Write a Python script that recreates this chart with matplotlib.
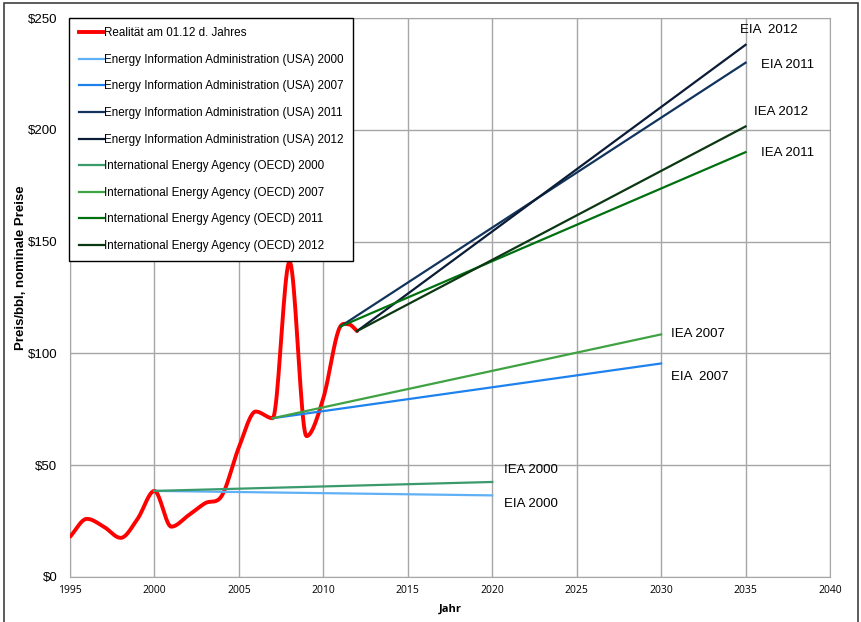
import numpy as np
import matplotlib
matplotlib.use('Agg')
from matplotlib import pyplot as plt
from matplotlib.lines import Line2D

# Realität (Ölpreis am 01.12. des Jahres)
jahre = [1995, 1996, 1997, 1998, 1999, 2000, 2001, 2002, 2003, 2004,
         2005, 2006, 2007, 2008, 2009, 2010, 2011, 2011.5, 2012]
preise = [18, 26, 22.5, 17.5, 26, 38.5, 22.5, 27.5, 33, 36.5,
          58, 74, 71, 141, 63, 80, 112, 113, 110]

# Prognosen: Name, Jahre, Preise
prognosen = [
    ("Energy Information Administration (USA) 2000", [2000, 2020], [38.5, 36.5]),
    ("Energy Information Administration (USA) 2007", [2007, 2030], [71, 95.5]),
    ("Energy Information Administration (USA) 2011", [2011, 2035], [112, 230]),
    ("Energy Information Administration (USA) 2012", [2012, 2035], [110, 238]),
    ("International Energy Agency (OECD) 2000", [2000, 2020], [38.5, 42.5]),
    ("International Energy Agency (OECD) 2007", [2007, 2030], [71, 108.5]),
    ("International Energy Agency (OECD) 2011", [2011, 2035], [112, 190]),
    ("International Energy Agency (OECD) 2012", [2012, 2035], [110, 201.5]),
]
farben = ['#5fb0f5', '#1e82ee', '#12345c', '#0b1c36',
          '#3a9a6c', '#3fa243', '#007010', '#0b3812']

beschriftungen = [
    ("EIA  2012", 2034.7, 244.5), ("EIA 2011", 2035.9, 229),
    ("IEA 2012", 2035.5, 208), ("IEA 2011", 2035.9, 189.5),
    ("IEA 2007", 2030.6, 108.7), ("EIA  2007", 2030.6, 89.4),
    ("IEA 2000", 2020.7, 47.9), ("EIA 2000", 2020.7, 32.6),
]


def glaetten(x, y, n=20):
    """geglättete Linie durch die Punkte (Hermite, flach an Extremstellen)"""
    x = np.asarray(x, float)
    y = np.asarray(y, float)
    m = np.gradient(y, x)
    d = np.diff(y)
    for i in range(1, len(y) - 1):
        if d[i - 1] * d[i] <= 0:
            m[i] = 0
    xs, ys = [], []
    t = np.linspace(0, 1, n, endpoint=False)
    h00 = 2 * t ** 3 - 3 * t ** 2 + 1
    h10 = t ** 3 - 2 * t ** 2 + t
    h01 = -2 * t ** 3 + 3 * t ** 2
    h11 = t ** 3 - t ** 2
    for i in range(len(x) - 1):
        h = x[i + 1] - x[i]
        xs.extend(x[i] + t * h)
        ys.extend(h00 * y[i] + h10 * h * m[i] + h01 * y[i + 1] + h11 * h * m[i + 1])
    xs.append(x[-1])
    ys.append(y[-1])
    return xs, ys


plt.rcParams['font.family'] = ['Liberation Sans', 'DejaVu Sans']

fig = plt.figure(dpi=100, figsize=(8.61, 6.22))
ax = fig.add_axes([70 / 861, 1 - 577 / 622, 760 / 861, 559 / 622])

# Rahmen um die ganze Grafik
fig.add_artist(plt.Rectangle((4 / 861, -0.01), 854 / 861, 1 - 3 / 622 + 0.01,
                             transform=fig.transFigure, fill=False,
                             edgecolor='#404040', linewidth=1.2))

handles = []
gx, gy = glaetten(jahre, preise)
ax.plot(gx, gy, color='red', linewidth=2.8, solid_capstyle='round', zorder=3)
handles.append(Line2D([], [], color='red', linewidth=2.8))

for (name, xs, ys), c in zip(prognosen, farben):
    ax.plot(xs, ys, color=c, linewidth=1.6, zorder=4)
    handles.append(Line2D([], [], color=c, linewidth=1.6))

for text, x, y in beschriftungen:
    ax.text(x, y, text, fontsize=9.5, ha='left', va='center')

ax.set_xlim(1995, 2040)
ax.set_ylim(0, 250)
ax.set_xticks(range(1995, 2041, 5))
ax.set_yticks(range(0, 251, 50))
ax.set_yticklabels(['$%d' % v for v in range(0, 251, 50)], fontsize=9.5)
ax.set_xticklabels([str(v) for v in range(1995, 2041, 5)], fontsize=7.5,
                   family='Open Sans')
ax.tick_params(axis='y', length=0, pad=9)
ax.tick_params(axis='x', length=0, pad=6)
ax.grid(True, color='#a6a6a6', linewidth=1)
ax.set_axisbelow(True)
for s in ax.spines.values():
    s.set_color('#a6a6a6')

ax.set_xlabel('Jahr', fontsize=8, fontweight='bold', family='Open Sans',
              labelpad=5)
fig.text(21 / 861, 1 - 268 / 622, 'Preis/bbl, nominale Preise', rotation=90,
         fontsize=9.5, fontweight='bold', ha='center', va='center')

labels = ['Realität am 01.12 d. Jahres'] + [p[0] for p in prognosen]
leg = ax.legend(handles, labels, loc='upper left', bbox_to_anchor=(-0.001, 1.0),
                fontsize=8.4, handlelength=2.15, handletextpad=0.05,
                labelspacing=1.25, borderpad=0.8, fancybox=False,
                framealpha=1, edgecolor='black', borderaxespad=0)
leg.get_frame().set_linewidth(1.0)

fig.savefig('out.png', dpi=100)
